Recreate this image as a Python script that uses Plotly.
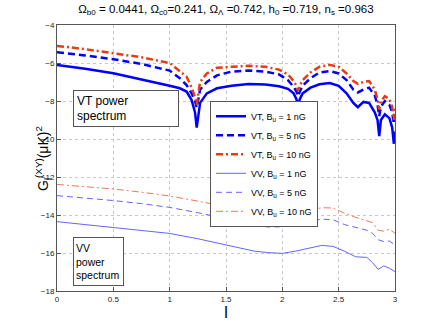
import plotly.graph_objects as go

# multipole l (in thousands) for the VT curves, dense near the dips
l_vt = [0, 0.25, 0.5, 0.75, 1.0, 1.09, 1.15, 1.195, 1.225, 1.24, 1.255, 1.27,
        1.33, 1.42, 1.55, 1.7, 1.85, 1.97, 2.05, 2.1, 2.125, 2.14, 2.155, 2.18,
        2.25, 2.33, 2.42, 2.5, 2.57, 2.63, 2.67, 2.72, 2.77, 2.82, 2.845, 2.86,
        2.875, 2.91, 2.95, 2.975, 2.99, 3.0]
vt_1 = [-6.1, -6.3, -6.54, -6.85, -7.2, -7.33, -7.5, -7.95, -8.6, -9.4, -8.6, -8.1,
        -7.6, -7.33, -7.2, -7.1, -7.13, -7.22, -7.36, -7.6, -7.9, -8.25, -7.9, -7.6,
        -7.3, -7.12, -7.05, -7.2, -7.6, -8.1, -8.33, -8.05, -8.1, -8.6, -9.0, -9.85,
        -9.0, -8.7, -8.9, -9.4, -10.25, -9.6]
vt_5 = [-5.44, -5.6, -5.8, -6.05, -6.4, -6.8, -7.16, -7.6, -8.0, -8.35, -7.9, -7.4,
        -7.0, -6.65, -6.45, -6.4, -6.45, -6.6, -6.9, -7.25, -7.5, -7.75, -7.5, -7.2,
        -6.8, -6.5, -6.42, -6.55, -6.9, -7.4, -7.55, -7.4, -7.3, -7.7, -8.2, -8.8,
        -8.3, -8.0, -8.2, -8.6, -9.2, -8.6]
vt_10 = [-5.1, -5.27, -5.49, -5.7, -6.0, -6.46, -6.72, -7.3, -7.8, -8.2, -7.6, -7.0,
         -6.55, -6.25, -6.2, -6.15, -6.2, -6.35, -6.6, -6.95, -7.2, -7.45, -7.2, -6.9,
         -6.5, -6.2, -6.1, -6.2, -6.55, -6.95, -7.1, -7.0, -6.95, -7.4, -7.9, -8.45,
         -8.0, -7.75, -7.9, -8.3, -9.0, -8.3]

l_vv = [0, 0.25, 0.5, 0.75, 1.0, 1.25, 1.5, 1.62, 1.75, 1.87, 2.0, 2.12, 2.25,
        2.35, 2.45, 2.55, 2.65, 2.75, 2.8, 2.85, 2.9, 2.95, 3.0]
vv_1 = [-14.35, -14.5, -14.65, -14.8, -14.97, -15.25, -15.58, -15.76, -15.9, -15.98,
        -16.02, -15.9, -15.72, -15.6, -15.65, -15.9, -16.2, -16.23, -16.5, -16.86,
        -16.68, -16.8, -16.98]
vv_5 = [-12.98, -13.1, -13.24, -13.4, -13.6, -13.88, -14.18, -14.4, -14.52, -14.63,
        -14.62, -14.45, -14.3, -14.22, -14.25, -14.5, -14.65, -14.8, -14.96, -15.3,
        -15.4, -15.37, -15.58]
vv_10 = [-12.39, -12.5, -12.63, -12.8, -13.0, -13.27, -13.56, -13.82, -13.93, -14.0,
         -14.0, -13.88, -13.74, -13.62, -13.63, -13.9, -14.12, -14.3, -14.4, -14.8,
         -14.85, -14.75, -14.96]

BLUE = "rgb(0,0,255)"
RED = "rgb(230,60,20)"
DASHDOT = "7px,3px,2px,3px"

series = [
    (l_vt, vt_1, "VT, B<sub>u</sub> = 1 nG", BLUE, "solid", 2.5),
    (l_vt, vt_5, "VT, B<sub>u</sub> = 5 nG", BLUE, "7px,4px", 2.5),
    (l_vt, vt_10, "VT, B<sub>u</sub> = 10 nG", RED, DASHDOT, 2.5),
    (l_vv, vv_1, "VV, B<sub>u</sub> = 1 nG", "rgb(100,100,255)", "solid", 1),
    (l_vv, vv_5, "VV, B<sub>u</sub> = 5 nG", "rgb(100,100,255)", "6px,4px", 1),
    (l_vv, vv_10, "VV, B<sub>u</sub> = 10 nG", "rgb(240,120,90)", DASHDOT, 1),
]

fig = go.Figure()
for x, y, name, color, dash, width in series:
    fig.add_trace(go.Scatter(x=x, y=y, mode="lines", name=name,
                             line={"color": color, "dash": dash, "width": width}))

axis_common = dict(
    showline=True, mirror=True, linecolor="#555", linewidth=1,
    ticks="inside", ticklen=4, tickcolor="#555", automargin=False,
    showgrid=True, gridcolor="#c8c8c8", griddash="dot", gridwidth=1,
    zeroline=False, tickfont={"size": 8, "color": "#222"},
)
fig.update_xaxes(range=[0, 3], dtick=0.5, title={"text": "l", "font": {"size": 16}, "standoff": 2},
                 **axis_common)
fig.update_yaxes(range=[-18, -4], dtick=2, **axis_common)

# y-axis label placed as an annotation so it sits where the reference has it
fig.add_annotation(x=-0.077, y=0.5, xref="paper", yref="paper", textangle=-90,
                   text="G<sub>l</sub><sup>(XY)</sup>(μK)<sup>2</sup>", showarrow=False,
                   font={"size": 14})

fig.add_annotation(x=0.139, y=-7.42, xref="x", yref="y", xanchor="left", yanchor="top",
                   text="VT power<br>spectrum", showarrow=False, align="left",
                   width=98, height=29, bordercolor="#555", borderwidth=1, borderpad=3,
                   bgcolor="white", font={"size": 12})
fig.add_annotation(x=0.139, y=-15.16, xref="x", yref="y", xanchor="left", yanchor="top",
                   text="VV<br>power<br>spectrum", showarrow=False, align="left",
                   width=45, height=43, bordercolor="#555", borderwidth=1, borderpad=2,
                   bgcolor="white", font={"size": 10.5})

fig.update_layout(
    width=437, height=327,
    title={"text": "Ω<sub>b0</sub> = 0.0441, Ω<sub>c0</sub>=0.241, Ω<sub>Λ</sub> =0.742, "
                   "h<sub>0</sub> =0.719, n<sub>s</sub> =0.963",
           "x": 0.517, "xanchor": "center", "y": 0.985, "yanchor": "top",
           "font": {"size": 11.5}},
    font={"family": "Liberation Sans, Arial, sans-serif", "color": "black"},
    plot_bgcolor="white", paper_bgcolor="white",
    margin={"l": 57, "r": 42, "t": 25, "b": 36},
    legend={"x": 0.4527, "y": 0.715, "xanchor": "left", "yanchor": "top",
            "bordercolor": "#555", "borderwidth": 1, "bgcolor": "white",
            "font": {"size": 9}, "tracegroupgap": 0, "itemwidth": 30},
)

# drop the default page margin so the figure sits at the window's corner
fig.write_html("out.html", config={"displayModeBar": False},
               post_script="document.body.style.margin='0';")
